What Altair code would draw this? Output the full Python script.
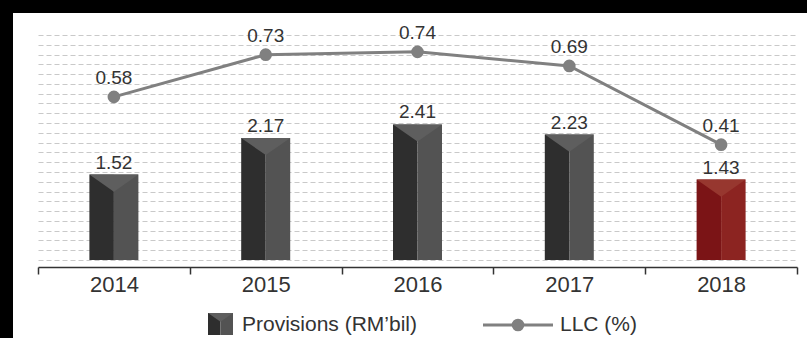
import altair as alt
import pandas as pd

# ---- data ----
years = ["2014", "2015", "2016", "2017", "2018"]
provisions = [1.52, 2.17, 2.41, 2.23, 1.43]
llc = [0.58, 0.73, 0.74, 0.69, 0.41]

df = pd.DataFrame({"year": years, "prov": provisions, "llc": llc})
one = pd.DataFrame({"a": [0]})

W, H = 759, 225
FONT = "Liberation Sans"
TXT = "#333333"
LINE_C = "#808080"
grid_vals = [i * 4 / 23 for i in range(24)]

is_red = alt.datum.year == "2018"


def cond(red, gray):
    return alt.condition(is_red, alt.value(red), alt.value(gray))


x = alt.X(
    "year:N",
    sort=years,
    scale=alt.Scale(paddingInner=0, paddingOuter=0),
    axis=alt.Axis(
        title=None, labelAngle=0, grid=False, offset=7,
        domainColor=TXT, domainWidth=1.5,
        tickColor=TXT, tickWidth=1.5, tickSize=7, tickBand="extent",
        labelFont=FONT, labelFontSize=22, labelColor=TXT, labelPadding=0,
    ),
)

ybar = alt.Y(
    "prov:Q",
    scale=alt.Scale(domain=[0, 4], nice=False, zero=True),
    axis=alt.Axis(
        values=grid_vals, grid=True, gridDash=[5, 3], gridColor="#c9c9c9",
        gridWidth=1, domain=False, ticks=False, labels=False, title=None,
    ),
)
yline = alt.Y("llc:Q", scale=alt.Scale(domain=[0, 0.8], nice=False), axis=None)

base = alt.Chart(df).encode(x=x)

left = base.mark_bar(width=24.5, xOffset=-12.25).encode(
    y=ybar, color=cond("#7b1416", "#2e2e2e"))
right = base.mark_bar(width=24.5, xOffset=12.25).encode(
    y=ybar, color=cond("#8c2421", "#535353"))
tri = base.mark_point(
    shape="M -1 0 L 1 0 L 0 0.7 Z", size=2401, filled=True, opacity=1, strokeWidth=0
).encode(y=ybar, color=cond("#97372f", "#5e5e5e"))
bar_txt = base.mark_text(
    dy=-6, baseline="alphabetic", fontSize=19, font=FONT, color=TXT
).encode(y=ybar, text=alt.Text("prov:Q", format=".2f"))

bars = alt.layer(left, right, tri, bar_txt)

line = base.mark_line(color=LINE_C, strokeWidth=3).encode(y=yline)
pts = base.mark_circle(size=160, color=LINE_C, opacity=1).encode(y=yline)
line_txt = base.mark_text(
    dy=-13, baseline="alphabetic", fontSize=19, font=FONT, color=TXT
).encode(y=yline, text=alt.Text("llc:Q", format=".2f"))

lines = alt.layer(line, pts, line_txt)

# ---- decorations: black frame (top & left) ----
lg = alt.Chart(one)
frame_top = lg.mark_rect(color="black").encode(
    x=alt.value(-38), x2=alt.value(769), y=alt.value(-35), y2=alt.value(-22))
frame_left = lg.mark_rect(color="black").encode(
    x=alt.value(-38), x2=alt.value(-25), y=alt.value(-35), y2=alt.value(303))

# ---- manual legend ----
ic_l = lg.mark_rect(color="#2e2e2e").encode(
    x=alt.value(170), x2=alt.value(182.5), y=alt.value(278), y2=alt.value(300))
ic_r = lg.mark_rect(color="#535353").encode(
    x=alt.value(182.5), x2=alt.value(195), y=alt.value(278), y2=alt.value(300))
ic_t = lg.mark_point(
    shape="M -1 0 L 1 0 L 0 0.7 Z", size=625, filled=True, opacity=1,
    strokeWidth=0, color="#5e5e5e"
).encode(x=alt.value(182.5), y=alt.value(278))
t1 = lg.mark_text(align="left", baseline="alphabetic", fontSize=21, font=FONT,
                  color=TXT).encode(
    x=alt.value(204), y=alt.value(296), text=alt.value("Provisions (RM\u2019bil)"))
l_rule = lg.mark_rule(color=LINE_C, strokeWidth=3).encode(
    x=alt.value(445), x2=alt.value(515), y=alt.value(290))
l_pt = lg.mark_circle(size=160, color=LINE_C, opacity=1).encode(
    x=alt.value(480), y=alt.value(290))
t2 = lg.mark_text(align="left", baseline="alphabetic", fontSize=21, font=FONT,
                  color=TXT).encode(
    x=alt.value(522), y=alt.value(296), text=alt.value("LLC (%)"))

chart = (
    alt.layer(frame_top, frame_left, bars, lines, ic_l, ic_r, ic_t, t1, l_rule, l_pt, t2)
    .resolve_scale(y="independent")
    .properties(
        width=W, height=H,
        padding={"left": 38, "top": 35, "right": 10, "bottom": 78},
        autosize=alt.AutoSizeParams(type="none"),
        background="white",
    )
    .configure_view(stroke=None)
)

chart.save("out.html", embed_options={"renderer": "svg", "actions": False})
